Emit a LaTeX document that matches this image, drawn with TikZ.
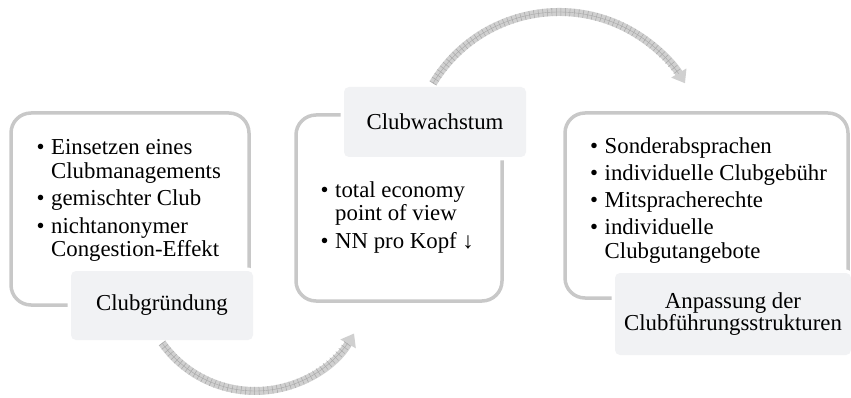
\documentclass[tikz,border=0pt]{standalone}
\usepackage{fontspec}
\setmainfont{Liberation Serif}
\usetikzlibrary{arrows.meta}
\definecolor{boxline}{RGB}{200,200,200}
\definecolor{labelfill}{RGB}{241,242,244}
\definecolor{bandfill}{RGB}{208,208,208}
\definecolor{bandline}{RGB}{168,168,168}
\newcommand{\bul}{\makebox[14.5pt][l]{\textbullet}}
\newcommand{\ind}{\hspace*{14.5pt}}
\tikzset{
  outerbox/.style={draw=boxline, line width=3.5pt, rounded corners=20pt, minimum width=#1, inner sep=0pt},
  labelbox/.style={fill=labelfill, rounded corners=5pt, inner sep=0pt, align=center,
     preaction={draw=white, line width=7pt}},
  bodytext/.style={anchor=base west, inner sep=0pt, align=left},
  band/.style={draw=bandfill, line width=8pt},
  bandticks/.style={draw=bandline, line width=8pt, dash pattern=on 0.5pt off 4pt},
  bandmid/.style={draw=bandline, line width=0.4pt},
}
\begin{document}
\begin{tikzpicture}[x=1pt,y=-1pt, font=\fontsize{22.8}{23.5}\selectfont]
\useasboundingbox (0,0) rectangle (851,398);

% outer boxes
\node[outerbox=238pt, minimum height=192pt] (b1) at (130,209) {};
\node[outerbox=206pt, minimum height=186pt] (b2) at (399,208) {};
\node[outerbox=283pt, minimum height=185pt] (b3) at (706.5,205.5) {};

% body texts
\node[bodytext] (t1) at (36.5,155) {\begin{tabular}[t]{@{}l@{}}
\bul Einsetzen eines\\ \ind Clubmanagements\\[4pt]
\bul gemischter Club\\[4pt]
\bul nichtanonymer\\ \ind Congestion-Effekt
\end{tabular}};

\node[bodytext] (t2) at (320.5,197) {\begin{tabular}[t]{@{}l@{}}
\bul total economy\\ \ind point of view\\[4.5pt]
\bul NN pro Kopf ↓
\end{tabular}};

\node[bodytext] (t3) at (590,154) {\begin{tabular}[t]{@{}l@{}}
\bul Sonderabsprachen\\[3.5pt]
\bul individuelle Clubgebühr\\[3.5pt]
\bul Mitspracherechte\\[3.5pt]
\bul individuelle\\ \ind Clubgutangebote
\end{tabular}};

% label boxes
\node[labelbox, minimum width=182pt, minimum height=69pt] (l1) at (162,305.5) {Clubgründung};
\node[labelbox, minimum width=182pt, minimum height=70pt] (l2) at (435,122) {Clubwachstum};
\node[labelbox, minimum width=236pt, minimum height=82pt] (l3) at (733,314) {Anpassung der\\[-1pt]Clubführungsstrukturen};

% curved arrows
\coordinate (c1) at (255,277);
\coordinate (c2) at (559,159);
\coordinate (a1s) at ([shift={(144.6:114)}]c1);
\coordinate (a2s) at ([shift={(211:147)}]c2);

\draw[band, -{Triangle[length=12pt,width=17pt]}, bandfill] (a1s) arc[start angle=144.6, end angle=29.7, radius=114];
\draw[bandticks] (a1s) arc[start angle=144.6, end angle=35.5, radius=114];
\draw[bandmid] (a1s) arc[start angle=144.6, end angle=35.5, radius=114];

\draw[band, -{Triangle[length=12pt,width=17pt]}, bandfill] (a2s) arc[start angle=211, end angle=329, radius=147];
\draw[bandticks] (a2s) arc[start angle=211, end angle=324.5, radius=147];
\draw[bandmid] (a2s) arc[start angle=211, end angle=324.5, radius=147];
\end{tikzpicture}
\end{document}
